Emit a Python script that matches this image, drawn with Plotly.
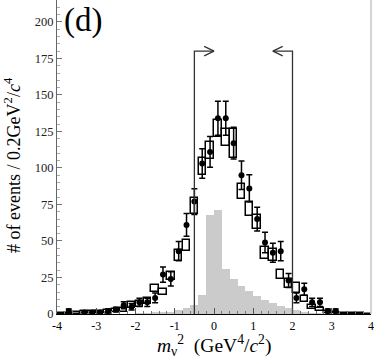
import plotly.graph_objects as go

# bin centres (0.2 GeV^2 bins from -4 to 4)
bin_centers = [-3.9, -3.7, -3.5, -3.3, -3.1, -2.9, -2.7, -2.5, -2.3, -2.1,
               -1.9, -1.7, -1.5, -1.3, -1.1, -0.9, -0.7, -0.5, -0.3, -0.1,
               0.1, 0.3, 0.5, 0.7, 0.9, 1.1, 1.3, 1.5, 1.7, 1.9,
               2.1, 2.3, 2.5, 2.7, 2.9, 3.1, 3.3, 3.5, 3.7, 3.9]

# data points (None = empty bin)
data_counts = [None, 2, None, 1, 1, 1, 2, 3, 6, 5,
               8, 8, 11, 27, 24, 43, 61, 77, 103, 111,
               134, 134, 117, 95, 86, 65, 49, 42, 43, 23,
               11, 17, 8, 8, 2, 2, None, None, None, None]
data_errors = [0, 1.4, 0, 1.0, 1.0, 1.0, 1.4, 1.7, 2.4, 2.2,
               2.8, 2.8, 3.3, 5.2, 4.9, 6.6, 7.8, 8.8, 10.1, 10.5,
               11.6, 11.6, 10.8, 9.7, 9.3, 8.1, 7.0, 6.5, 6.6, 4.8,
               3.3, 4.1, 2.8, 2.8, 1.4, 1.4, 0, 0, 0, 0]

# MC expectation (box centre and half height)
mc_center = [0.5, 0.6, 0.8, 1.5, 1.3, 1.5, 2.0, 2.5, 3.0, 6.0,
             7.0, 9.0, 17.5, 15.0, 26.0, 40.0, 47.0, 74.0, 101.0, 112.0,
             127.0, 121.0, 117.0, 84.0, 72.0, 63.0, 42.0, 40.5, 27.0, 21.0,
             18.0, 10.0, 5.0, 3.0, 1.5, 1.0, 0.5, 0.3, 0.2, 0.0]
mc_half = [0.4, 0.4, 0.5, 0.8, 0.8, 0.8, 1.0, 1.0, 1.3, 2.0,
           2.0, 2.0, 2.3, 2.3, 2.7, 3.5, 4.0, 5.3, 6.0, 6.0,
           6.0, 6.0, 10.0, 5.0, 5.0, 5.0, 4.0, 4.0, 3.0, 3.0,
           3.3, 2.0, 1.5, 1.2, 0.8, 0.6, 0.4, 0.3, 0.3, 0.0]

# background histogram (grey)
bkg_counts = [0, 0, 0, 0, 0, 0, 0, 0, 0, 0,
              0.3, 0.5, 0.8, 1.2, 1.7, 2.5, 4.0, 6.0, 13.0, 68.0,
              71.0, 31.0, 24.0, 19.0, 15.5, 12.3, 9.7, 7.2, 5.5, 4.0,
              2.5, 1.2, 0.5, 0.2, 0, 0, 0, 0, 0, 0]

x_tick_vals = [-4, -3, -2, -1, 0, 1, 2, 3, 4]
x_tick_text = ["-4", "-3", "-2", "-1", "0", "1", "2", "3", "4"]
y_tick_vals = [0, 25, 50, 75, 100, 125, 150, 175, 200]

# signal region cuts
cut_lo = -0.5
cut_hi = 2.0
cut_top = 180
arrow_len = 0.5
head_len = 0.25
head_half = 3.2

serif = "Liberation Serif"

mc_low = [c - h for c, h in zip(mc_center, mc_half)]
mc_height = [2 * h for h in mc_half]

bkg = go.Bar(x=bin_centers, y=bkg_counts, width=0.2,
             marker=dict(color="#cbcbcb", line=dict(width=0)),
             hoverinfo="skip")

mc = go.Bar(x=bin_centers, y=mc_height, base=mc_low, width=0.19,
            marker=dict(color="rgba(255,255,255,0)",
                        line=dict(color="black", width=1.5)))

data = go.Scatter(x=bin_centers, y=data_counts, mode="markers",
                  marker=dict(color="black", size=6),
                  error_y=dict(type="data", array=data_errors, visible=True,
                               color="black", thickness=1.5, width=3))

# cut lines with arrows
lo_line = go.Scatter(x=[cut_lo, cut_lo, cut_lo + arrow_len],
                     y=[0, cut_top, cut_top], mode="lines",
                     line=dict(color="#333", width=1.3))
lo_head = go.Scatter(x=[cut_lo + arrow_len - head_len, cut_lo + arrow_len,
                        cut_lo + arrow_len - head_len],
                     y=[cut_top + head_half, cut_top, cut_top - head_half],
                     mode="lines", line=dict(color="#333", width=1.3))
hi_line = go.Scatter(x=[cut_hi, cut_hi, cut_hi - arrow_len],
                     y=[0, cut_top, cut_top], mode="lines",
                     line=dict(color="#333", width=1.3))
hi_head = go.Scatter(x=[cut_hi - arrow_len + head_len, cut_hi - arrow_len,
                        cut_hi - arrow_len + head_len],
                     y=[cut_top + head_half, cut_top, cut_top - head_half],
                     mode="lines", line=dict(color="#333", width=1.3))

layout = go.Layout(
    width=374, height=362,
    margin=dict(l=57, r=3, t=0, b=48),
    paper_bgcolor="white", plot_bgcolor="white",
    showlegend=False, barmode="overlay", bargap=0,
    font=dict(family=serif, color="black"),
    xaxis=dict(range=[-4, 4], tickvals=x_tick_vals, ticktext=x_tick_text,
               ticks="inside", ticklen=6, tickcolor="#555",
               minor=dict(dtick=0.2, ticks="inside", ticklen=3, tickcolor="#777"),
               showline=True, linecolor="black", linewidth=1.3,
               showgrid=False, zeroline=False,
               tickfont=dict(size=12, family=serif)),
    yaxis=dict(range=[0, 215], tickvals=y_tick_vals,
               ticks="inside", ticklen=5, tickcolor="#777",
               minor=dict(dtick=5, ticks="inside", ticklen=3, tickcolor="#aaa"),
               showline=True, linecolor="#666", linewidth=1,
               showgrid=False, zeroline=False,
               tickfont=dict(size=12.5, family=serif, color="#222")),
    shapes=[dict(type="line", xref="paper", yref="paper", x0=1, x1=1,
                 y0=0, y1=1, line=dict(color="#aaa", width=1))],
    annotations=[
        dict(text="(d)", xref="paper", yref="paper", x=0.017, y=0.935,
             xanchor="left", yanchor="middle", showarrow=False,
             font=dict(size=33, family=serif)),
        dict(text="# of events / 0.2GeV<sup>2</sup>/<i>c</i><sup>4</sup>",
             xref="paper", yref="paper", x=-0.14, y=0.475,
             xanchor="center", yanchor="middle", textangle=-90,
             showarrow=False, font=dict(size=18, family=serif)),
        dict(text="<i>m</i><sub>ν</sub><sup>2</sup>  (GeV<sup>4</sup>/<i>c</i><sup>2</sup>)",
             xref="paper", yref="paper", x=0.5, y=-0.1,
             xanchor="center", yanchor="middle",
             showarrow=False, font=dict(size=19.5, family=serif)),
    ],
)

fig = go.Figure(data=[bkg, mc, data, lo_line, lo_head, hi_line, hi_head],
                layout=layout)
# drop the default page margin so the figure fills the window
fig.write_html("out.html", config={"displayModeBar": False},
               post_script="document.body.style.margin='0';document.body.style.overflow='hidden';")
